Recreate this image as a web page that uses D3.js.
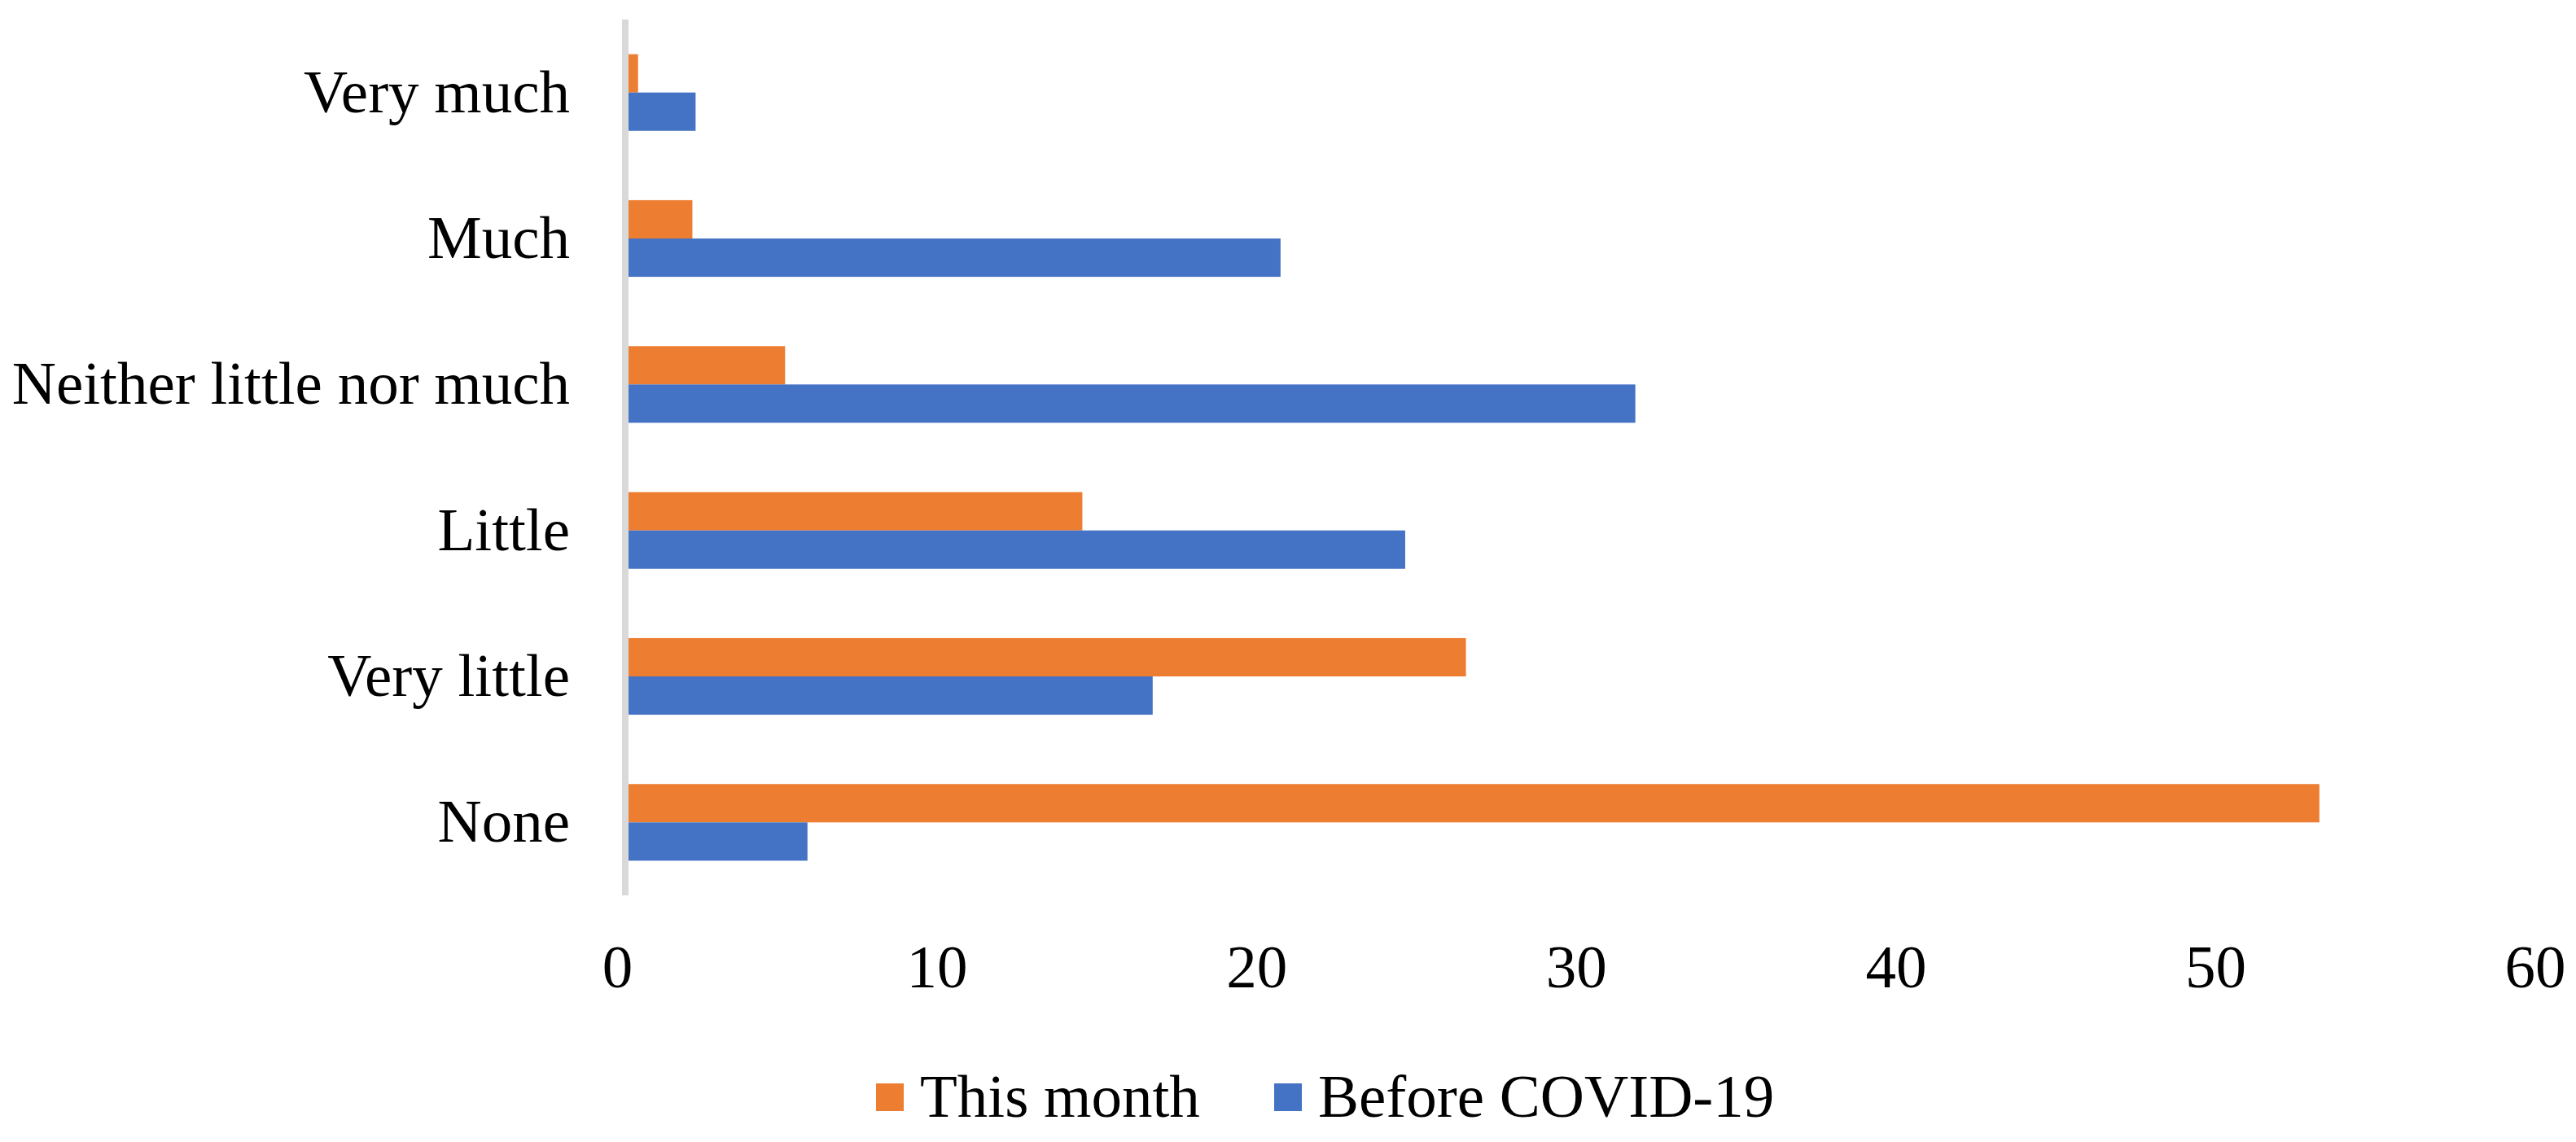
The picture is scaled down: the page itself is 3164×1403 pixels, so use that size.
<!DOCTYPE html>
<html>
<head>
<meta charset="utf-8">
<script src="https://cdn.jsdelivr.net/npm/d3@7"></script>
<style>
    body { margin: 0; background: #fff; }
    svg { display: block; }
    text { font-family: "Liberation Serif", "Times New Roman", serif; fill: #000; }
</style>
</head>
<body>
<svg id="chart" width="3164" height="1403"></svg>
<script>
// Data
const categories = ['Very much', 'Much', 'Neither little nor much', 'Little', 'Very little', 'None'];
const seriesNames = ['This month', 'Before COVID-19'];
const thisMonth = [0.4, 2.1, 5.0, 14.3, 26.3, 53.0];
const beforeCovid = [2.2, 20.5, 31.6, 24.4, 16.5, 5.7];
const xTicks = [0, 10, 20, 30, 40, 50, 60];
const colors = ['#ED7D31', '#4472C4'];

const svg = d3.select('#chart');
const fontSize = 75;

// Plot area
const plotLeft = 768, plotRight = 768 + 60 * 39.26;
const plotTop = 24, plotBottom = 1100;

const x = d3.scaleLinear().domain([0, 60]).range([plotLeft, plotRight]);

const y = d3.scaleBand()
    .domain(categories)
    .range([plotTop, plotBottom])
    .paddingInner(0.475)
    .paddingOuter(0.2375);

const ySub = d3.scaleBand()
    .domain(seriesNames)
    .range([0, y.bandwidth()]);

const rows = categories.map((c, i) => ({ cat: c, values: [thisMonth[i], beforeCovid[i]] }));

// Bars
const groups = svg.append('g')
    .selectAll('g')
    .data(rows)
    .enter()
    .append('g')
    .attr('transform', d => `translate(0,${y(d.cat)})`);

groups.selectAll('rect')
    .data(d => d.values.map((v, j) => ({ name: seriesNames[j], value: v, color: colors[j] })))
    .enter()
    .append('rect')
    .attr('x', x(0))
    .attr('y', d => ySub(d.name))
    .attr('width', d => x(d.value) - x(0))
    .attr('height', ySub.bandwidth())
    .attr('fill', d => d.color);

// Category axis (gray line at zero)
const yAxis = svg.append('g')
    .attr('transform', `translate(${x(0)},0)`)
    .call(d3.axisLeft(y).tickSize(0).tickPadding(68));

yAxis.select('.domain')
    .attr('stroke', '#D9D9D9')
    .attr('stroke-width', 8)
    .attr('d', `M0,${plotTop}V${plotBottom}`);

yAxis.selectAll('text')
    .attr('font-size', fontSize)
    .attr('font-family', '"Liberation Serif", serif')
    .attr('dy', '0.32em');

// Value axis labels
const xAxis = svg.append('g')
    .attr('transform', `translate(0,${plotBottom})`)
    .call(d3.axisBottom(x).tickValues(xTicks).tickSize(0).tickPadding(60));

xAxis.select('.domain').remove();
xAxis.selectAll('text')
    .attr('font-size', fontSize)
    .attr('font-family', '"Liberation Serif", serif')
    .attr('dx', -10);

// Legend
const legendItems = [
    { name: seriesNames[0], color: colors[0], x: 1076 },
    { name: seriesNames[1], color: colors[1], x: 1565 }
];

const legend = svg.append('g')
    .selectAll('g')
    .data(legendItems)
    .enter()
    .append('g')
    .attr('transform', d => `translate(${d.x},1331)`);

legend.append('rect')
    .attr('width', 34)
    .attr('height', 34)
    .attr('fill', d => d.color);

legend.append('text')
    .attr('x', 54)
    .attr('y', 41)
    .attr('font-size', fontSize)
    .text(d => d.name);
</script>
</body>
</html>
